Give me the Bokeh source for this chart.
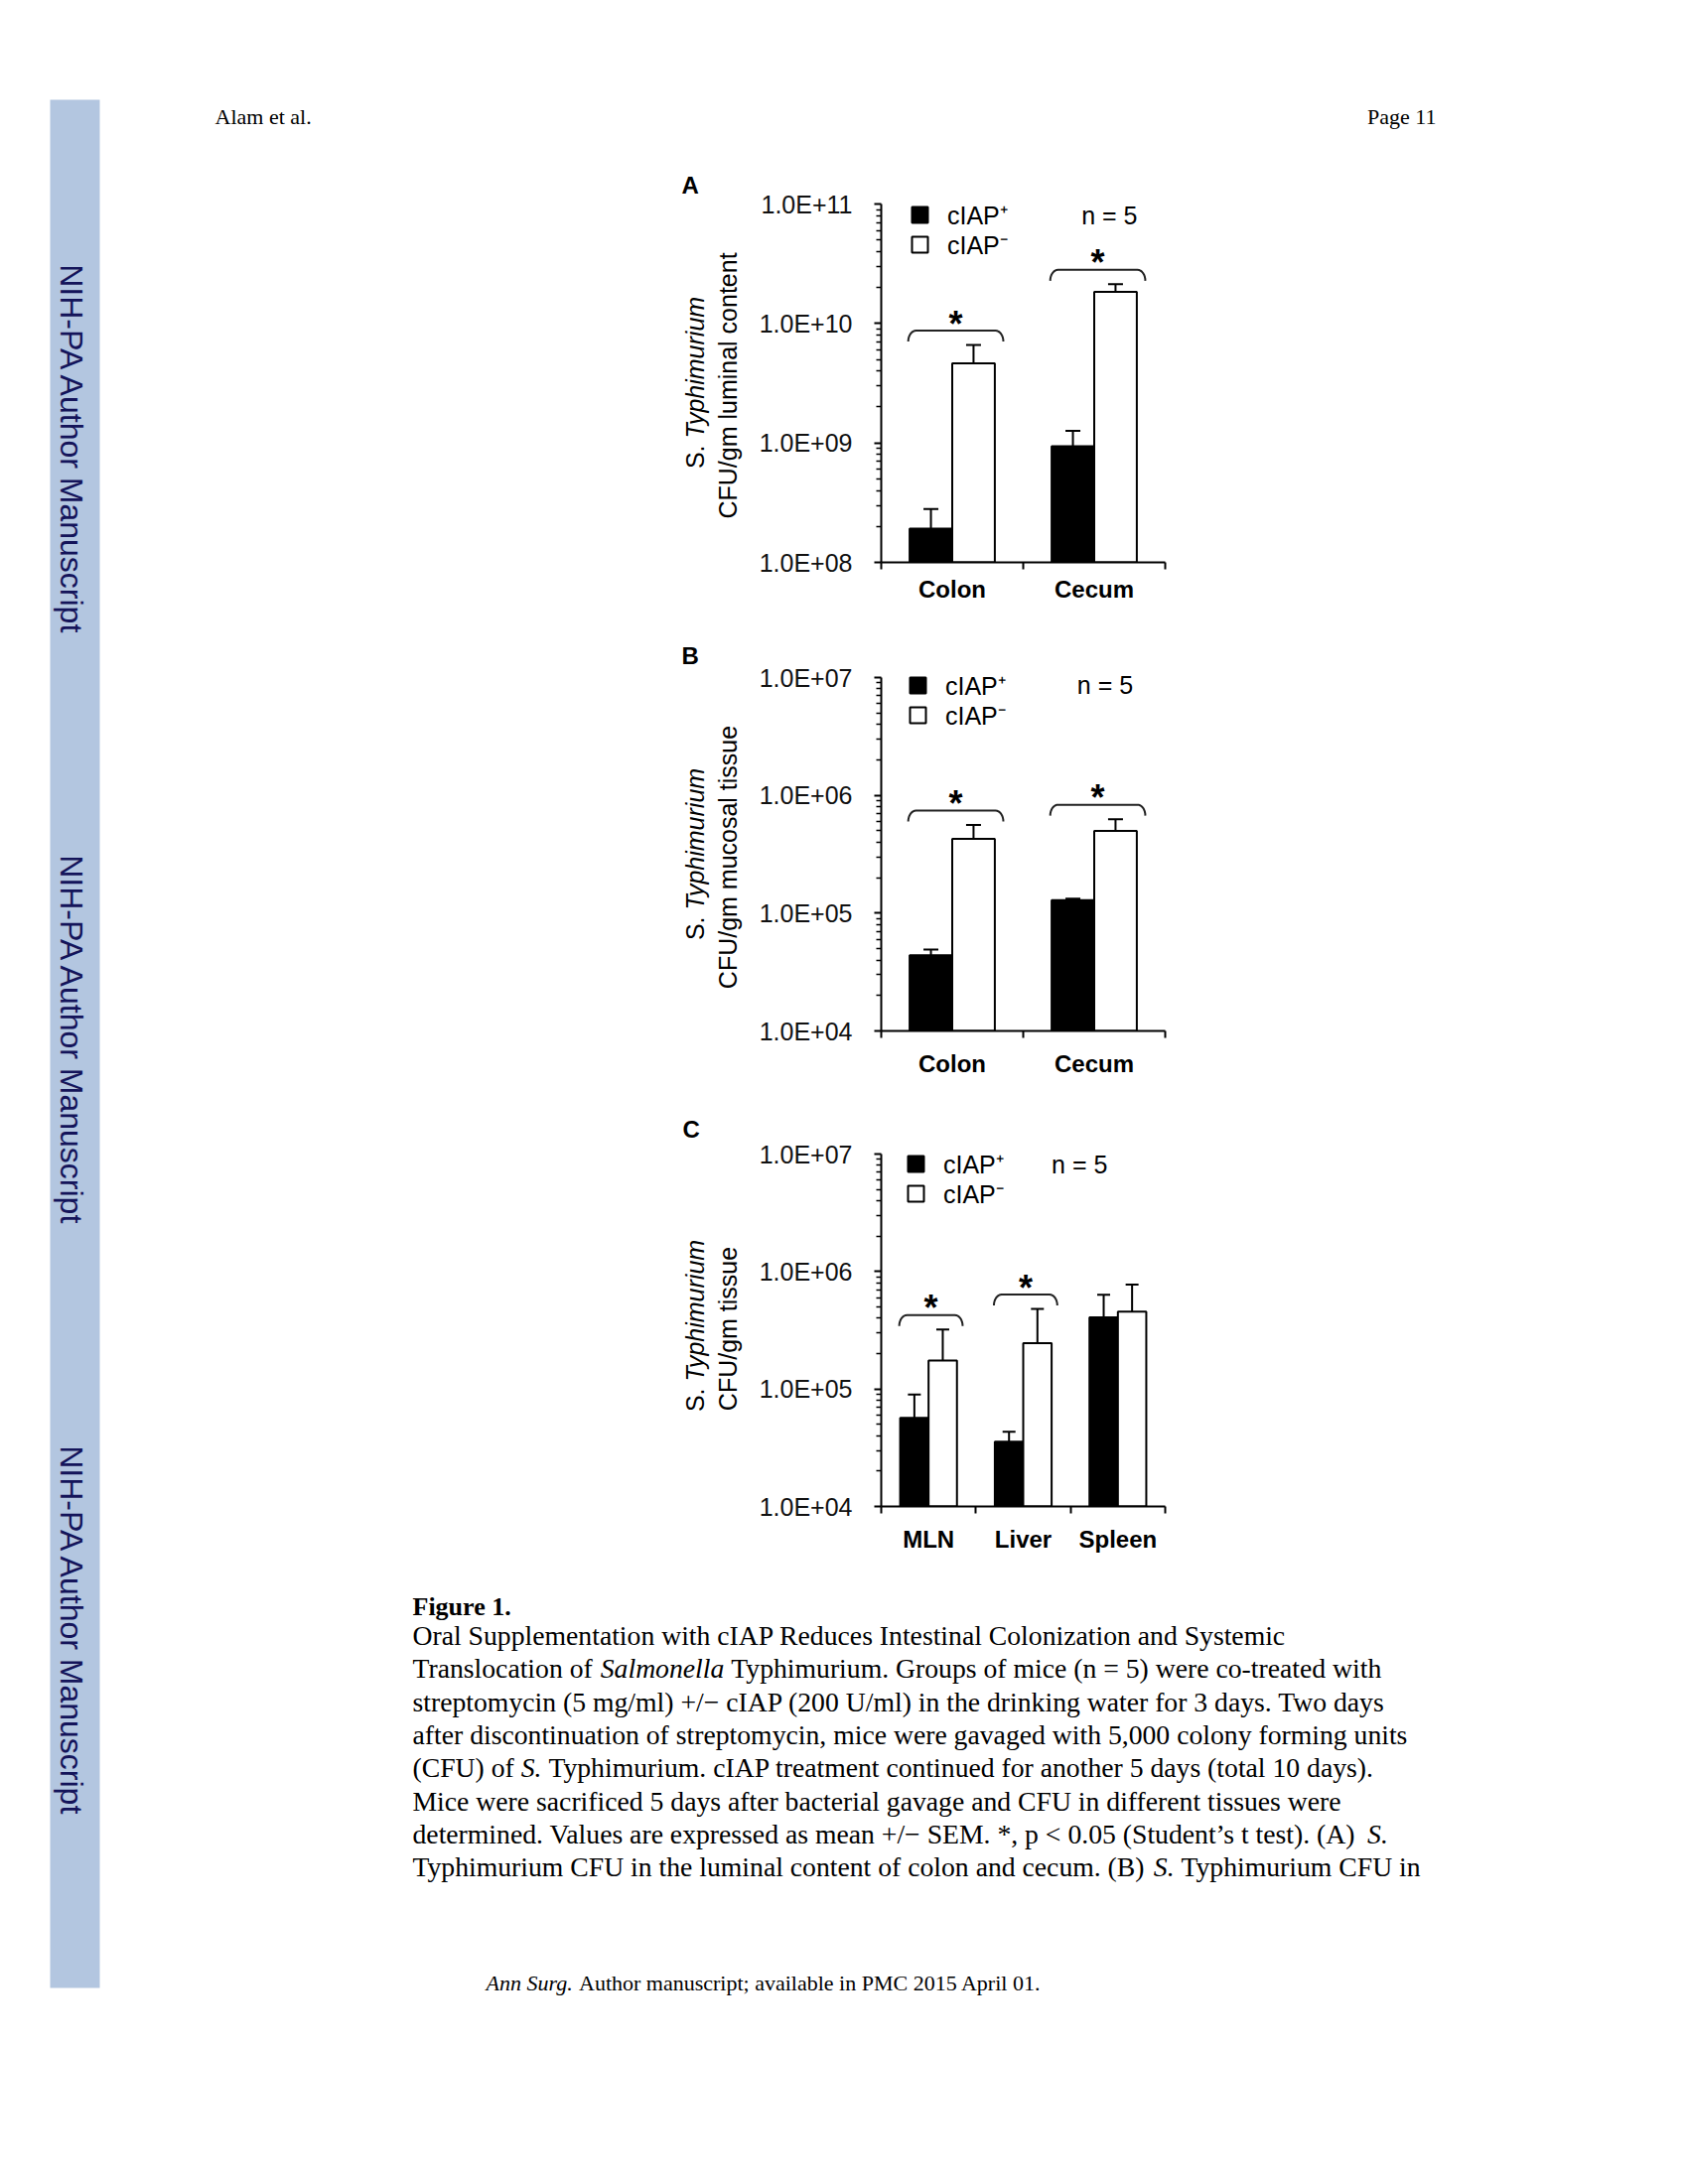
import math
from bokeh.plotting import figure
from bokeh.models import Range1d, FixedTicker, Legend, LegendItem, ColumnDataSource, Spacer
from bokeh.layouts import row, column
from bokeh.embed import file_html
from bokeh.resources import INLINE
from bokeh.core.properties import value

# ---------------- data ----------------
CAT_A = ["Colon", "Cecum"]
A_PLUS = [1.92e8, 9.4e8]
A_PLUS_SEM = [0.88e8, 0.32e9]
A_MINUS = [4.63e9, 1.84e10]
A_MINUS_SEM = [1.97e9, 0.29e10]
A_SIG = [True, True]
A_TICKS = [1e8, 1e9, 1e10, 1e11]
A_TICK_LABELS = ["1.0E+08", "1.0E+09", "1.0E+10", "1.0E+11"]

CAT_B = ["Colon", "Cecum"]
B_PLUS = [4.39e4, 1.29e5]
B_PLUS_SEM = [0.51e4, 0.04e5]
B_MINUS = [4.27e5, 4.98e5]
B_MINUS_SEM = [1.33e5, 1.30e5]
B_SIG = [True, True]
B_TICKS = [1e4, 1e5, 1e6, 1e7]
B_TICK_LABELS = ["1.0E+04", "1.0E+05", "1.0E+06", "1.0E+07"]

CAT_C = ["MLN", "Liver", "Spleen"]
C_PLUS = [5.68e4, 3.56e4, 4.07e5]
C_PLUS_SEM = [3.27e4, 0.76e4, 2.28e5]
C_MINUS = [1.75e5, 2.46e5, 4.56e5]
C_MINUS_SEM = [1.46e5, 2.34e5, 3.18e5]
C_SIG = [True, True, False]
C_TICKS = [1e4, 1e5, 1e6, 1e7]
C_TICK_LABELS = ["1.0E+04", "1.0E+05", "1.0E+06", "1.0E+07"]

LEGEND_LABELS = ["cIAP\u207a", "cIAP\u207b"]
N_LABEL = "n = 5"

YTITLE_A = "CFU/gm luminal content"
YTITLE_B = "CFU/gm mucosal tissue"
YTITLE_C = "CFU/gm tissue"

CAPTION_HEAD = "Figure 1."
CAPTION = [
    [("Oral Supplementation with cIAP Reduces Intestinal Colonization and Systemic", False)],
    [("Translocation of ", False), ("Salmonella", True),
     (" Typhimurium. Groups of mice (n = 5) were co-treated with", False)],
    [("streptomycin (5 mg/ml) +/\u2212 cIAP (200 U/ml) in the drinking water for 3 days. Two days", False)],
    [("after discontinuation of streptomycin, mice were gavaged with 5,000 colony forming units", False)],
    [("(CFU) of ", False), ("S.", True),
     (" Typhimurium. cIAP treatment continued for another 5 days (total 10 days).", False)],
    [("Mice were sacrificed 5 days after bacterial gavage and CFU in different tissues were", False)],
    [("determined. Values are expressed as mean +/\u2212 SEM. *, p < 0.05 (Student\u2019s t test). (A) ", False),
     ("S.", True)],
    [("Typhimurium CFU in the luminal content of colon and cecum. (B) ", False), ("S.", True),
     (" Typhimurium CFU in", False)],
]
FOOTER = [("Ann Surg.", True), (" Author manuscript; available in PMC 2015 April 01.", False)]

SANS = "Liberation Sans"
SERIF = "Liberation Serif"
KMID = 0.32   # distance (in em) from the alphabetic baseline up to the "middle" anchor

# Times metrics (Liberation Serif is metric compatible), 1/1000 em
ROMAN = {' ': 250, '!': 333, '(': 333, ')': 333, '*': 500, '+': 564, ',': 250, '-': 333, '.': 250,
         '/': 278, ':': 278, ';': 278, '<': 564, '=': 564, '>': 564, '\u2019': 333, '\u2212': 564,
         'A': 722, 'B': 667, 'C': 667, 'D': 722, 'E': 611, 'F': 556, 'G': 722, 'H': 722, 'I': 333,
         'J': 389, 'K': 722, 'L': 611, 'M': 889, 'N': 722, 'O': 722, 'P': 556, 'Q': 722, 'R': 667,
         'S': 556, 'T': 611, 'U': 722, 'V': 722, 'W': 944, 'X': 722, 'Y': 722, 'Z': 611,
         'a': 444, 'b': 500, 'c': 444, 'd': 500, 'e': 444, 'f': 333, 'g': 500, 'h': 500, 'i': 278,
         'j': 278, 'k': 500, 'l': 278, 'm': 778, 'n': 500, 'o': 500, 'p': 500, 'q': 500, 'r': 333,
         's': 389, 't': 278, 'u': 500, 'v': 500, 'w': 722, 'x': 500, 'y': 500, 'z': 444}
ITALIC = {' ': 250, '.': 250, 'A': 611, 'S': 500, 'a': 500, 'e': 444, 'g': 500, 'l': 278,
          'm': 722, 'n': 500, 'o': 500, 'r': 389, 'u': 500}

PAGE_R = 1500     # right edge of the laid-out page area
PAGE_B = 2040     # bottom edge of the laid-out page area
TOP_PAD = 12      # blank room above the top tick inside the frame (keeps the legend unclipped)


def tw(s, italic):
    t = ITALIC if italic else ROMAN
    return sum(t.get(ch, ROMAN.get(ch, 500)) for ch in s) / 1000.0


def page_fig(x0, x1, y0, y1):
    p = figure(width=x1 - x0, height=y1 - y0, x_range=Range1d(x0, x1), y_range=Range1d(y1, y0),
               output_backend="svg", toolbar_location=None, min_border=0,
               x_axis_location=None, y_axis_location=None)
    p.grid.visible = False
    p.outline_line_color = None
    p.background_fill_color = "white"
    p.border_fill_color = "white"
    return p


def txt(p, x, y, s, size, font=SANS, style="normal", align="left", angle=0.0, color="black",
        raw=False):
    """y is the alphabetic baseline (page px, downwards) unless raw=True (middle anchor)."""
    yy = y if raw else y - KMID * size
    p.text(x=[x], y=[yy], text=[s], text_font=value(font), text_font_size=f"{size}px",
           text_font_style=style, text_align=align, text_baseline="middle", angle=angle,
           text_color=color)


def rich_line(p, x, y, segs, size, color="black"):
    cur = x
    for s, it in segs:
        lead = len(s) - len(s.lstrip(' '))
        cur += lead * ROMAN[' '] / 1000.0 * size
        core = s.strip(' ')
        if core:
            txt(p, cur, y, core, size, font=SERIF, style="italic" if it else "normal", color=color)
            cur += tw(core, it) * size
        trail = len(s) - len(s.rstrip(' '))
        cur += trail * ROMAN[' '] / 1000.0 * size


def panel(cats, plus, plus_sem, minus, minus_sem, sig, ticks, tick_labels,
          width, height, bl, br, bt, bb, xstd, cap, leg_x, key_centers, n_xy):
    n = len(cats)
    ymin, ymax = ticks[0], ticks[-1]
    fw = width - bl - br
    fh0 = height - bt - bb             # height from bottom tick to top tick
    ppu = fw / n                       # pixels per category unit
    ppd = fh0 / (len(ticks) - 1)       # pixels per decade
    fh = fh0 + TOP_PAD
    ytop = 10 ** (math.log10(ymax) + TOP_PAD / ppd)
    p = figure(width=width, height=height, x_range=Range1d(0, n), y_range=Range1d(ymin, ytop),
               y_axis_type="log", output_backend="svg", toolbar_location=None,
               min_border_left=bl, min_border_right=br, min_border_top=bt - TOP_PAD,
               min_border_bottom=bb)
    p.grid.visible = False
    p.outline_line_color = None
    p.background_fill_color = "white"
    p.border_fill_color = "white"

    centers = [i + 0.5 for i in range(n)]
    xp = [c - 0.15 for c in centers]
    xm = [c + 0.15 for c in centers]
    plus_hi = [v + e for v, e in zip(plus, plus_sem)]
    minus_hi = [v + e for v, e in zip(minus, minus_sem)]
    src = ColumnDataSource(dict(xp=xp, xm=xm, plus=plus, minus=minus,
                                plus_hi=plus_hi, minus_hi=minus_hi))
    r_plus = p.vbar(x="xp", top="plus", bottom=ymin, width=0.3, source=src,
                    fill_color="black", line_color="black", line_width=2)
    r_minus = p.vbar(x="xm", top="minus", bottom=ymin, width=0.3, source=src,
                     fill_color="white", line_color="black", line_width=2)
    for xc, lo, hi in (("xp", "plus", "plus_hi"), ("xm", "minus", "minus_hi")):
        p.segment(x0=xc, y0=lo, x1=xc, y1=hi, source=src, line_color="black", line_width=2)
        p.scatter(x=xc, y=hi, source=src, marker="dash", size=cap, line_color="black",
                  line_width=2)

    # significance brackets
    bxs, bys, sx, sy = [], [], [], []
    rx = 8.0 / ppu
    for i, s in enumerate(sig):
        if not s:
            continue
        c = centers[i]
        x0, x1 = c - 0.31, c + 0.36
        lb = math.log10(max(plus_hi[i], minus_hi[i])) + 3.5 / ppd
        h = 11.0 / ppd
        xs, ys = [], []
        for k in range(9):
            t = k / 8 * math.pi / 2
            xs.append(x0 + rx * (1 - math.cos(t)))
            ys.append(10 ** (lb + h * math.sin(t)))
        for k in range(8, -1, -1):
            t = k / 8 * math.pi / 2
            xs.append(x1 - rx * (1 - math.cos(t)))
            ys.append(10 ** (lb + h * math.sin(t)))
        bxs.append(xs)
        bys.append(ys)
        sx.append((x0 + x1) / 2)
        sy.append(10 ** (lb + h))
    if bxs:
        p.multi_line(xs=bxs, ys=bys, line_color="#222222", line_width=2)
        p.text(x=sx, y=sy, text=["*"] * len(sx), text_font=value(SANS), text_font_size="36px",
               text_font_style="bold", text_align="center", text_baseline="middle",
               y_offset=-7, text_color="black")

    # n = 5
    p.text(x=[n_xy[0]], y=[n_xy[1]], text=[N_LABEL], text_font=value(SANS),
           text_font_size="25px", text_align="left", text_baseline="middle",
           text_color="black")

    # legend: one Legend per entry, rows 34 px high, key centred in the row
    row_h = 34
    for lab, rend, kc in zip(LEGEND_LABELS, (r_plus, r_minus), key_centers):
        leg = Legend(items=[LegendItem(label=lab, renderers=[rend])],
                     location=(leg_x, int(round(fh - (kc + TOP_PAD) - row_h / 2))),
                     orientation="vertical",
                     padding=0, margin=0, spacing=0, glyph_width=20, glyph_height=20,
                     label_height=row_h, label_standoff=18, label_text_font=SANS,
                     label_text_font_size="25px", label_text_color="black",
                     border_line_color=None, background_fill_alpha=0)
        p.add_layout(leg)

    minor = [k * t for t in ticks[:-1] for k in range(2, 10)]
    ya = p.yaxis[0]
    ya.bounds = (ymin, ymax)
    ya.ticker = FixedTicker(ticks=ticks, minor_ticks=minor)
    ya.major_label_overrides = {float(t): l for t, l in zip(ticks, tick_labels)}
    ya.axis_line_width = 2
    ya.axis_line_color = "black"
    ya.major_tick_line_width = 2
    ya.minor_tick_line_width = 1.5
    ya.major_tick_out = 7
    ya.major_tick_in = 0
    ya.minor_tick_out = 5
    ya.minor_tick_in = 0
    ya.major_label_standoff = 22
    ya.major_label_text_font = SANS
    ya.major_label_text_font_size = "25px"
    ya.major_label_text_color = "#111111"

    xa = p.xaxis[0]
    xa.ticker = FixedTicker(ticks=centers, minor_ticks=list(range(n + 1)))
    xa.major_label_overrides = {float(c): s for c, s in zip(centers, cats)}
    xa.axis_line_width = 2
    xa.axis_line_color = "black"
    xa.major_tick_out = 0
    xa.major_tick_in = 0
    xa.minor_tick_out = 7
    xa.minor_tick_in = 0
    xa.minor_tick_line_width = 2
    xa.major_label_standoff = xstd
    xa.major_label_text_font = SANS
    xa.major_label_text_font_style = "bold"
    xa.major_label_text_font_size = "24px"
    xa.major_label_text_color = "black"
    return p


pA = panel(CAT_A, A_PLUS, A_PLUS_SEM, A_MINUS, A_MINUS_SEM, A_SIG, A_TICKS, A_TICK_LABELS,
           450, 462, 135, 27, 47, 54, 6, 15, 29, (11, 41), (1.41, 7.95e10))
pB = panel(CAT_B, B_PLUS, B_PLUS_SEM, B_MINUS, B_MINUS_SEM, B_SIG, B_TICKS, B_TICK_LABELS,
           450, 470, 137, 22, 62, 52, 12, 15, 27, (8, 38), (1.38, 8.57e6))
pC = panel(CAT_C, C_PLUS, C_PLUS_SEM, C_MINUS, C_MINUS_SEM, C_SIG, C_TICKS, C_TICK_LABELS,
           450, 485, 137, 22, 72, 58, 12, 13, 25, (10, 40), (1.80, 8.2e6))

# ---------------- page parts (window pixel coordinates) ----------------
left = page_fig(0, 405, 0, PAGE_B)
left.quad(left=[50], right=[100], top=[100], bottom=[2002], fill_color="#B3C6E0", line_color=None)
left.text(x=[61 + KMID * 32] * 3, y=[453, 1048, 1643], text=["NIH-PA Author Manuscript"] * 3,
          text_font=value(SANS), text_font_size="32px", text_align="center",
          text_baseline="middle", angle=-math.pi / 2, text_color="#14145a")
txt(left, 216, 124, "Alam et al.", 22, font=SERIF)

top = page_fig(405, PAGE_R, 0, 158)
txt(top, 1446, 124, "Page 11", 22, font=SERIF, align="right")

ylab = page_fig(405, 750, 158, 1575)
for letter, (lx, ly) in zip(["A", "B", "C"], [(686, 185.5), (686, 659.5), (687, 1136.5)]):
    txt(ylab, lx, ly, letter, 24, style="bold", raw=True)
for title, cy in ((YTITLE_A, 388), (YTITLE_B, 863), (YTITLE_C, 1338)):
    anchor = cy + 60
    x1 = 707 - KMID * 25
    x2 = 740 - KMID * 25
    txt(ylab, x1, anchor, "S.", 25, align="right", angle=math.pi / 2, raw=True)
    txt(ylab, x1, anchor - 7, "Typhimurium", 25, style="italic", align="left",
        angle=math.pi / 2, raw=True)
    txt(ylab, x2, cy, title, 25, align="center", angle=math.pi / 2, raw=True)

bottom = page_fig(405, PAGE_R, 1575, PAGE_B)
txt(bottom, 415, 1626, CAPTION_HEAD, 26, font=SERIF, style="bold")
for i, segs in enumerate(CAPTION):
    rich_line(bottom, 415, 1656 + 33.3 * i, segs, 27.7)
rich_line(bottom, 489, 2004, FOOTER, 22)

middle = row(ylab, column(pA, pB, pC), Spacer(width=PAGE_R - 1200, height=1417))
layout = row(left, column(top, middle, bottom))

open("out.html", "w").write(file_html(layout, INLINE))
